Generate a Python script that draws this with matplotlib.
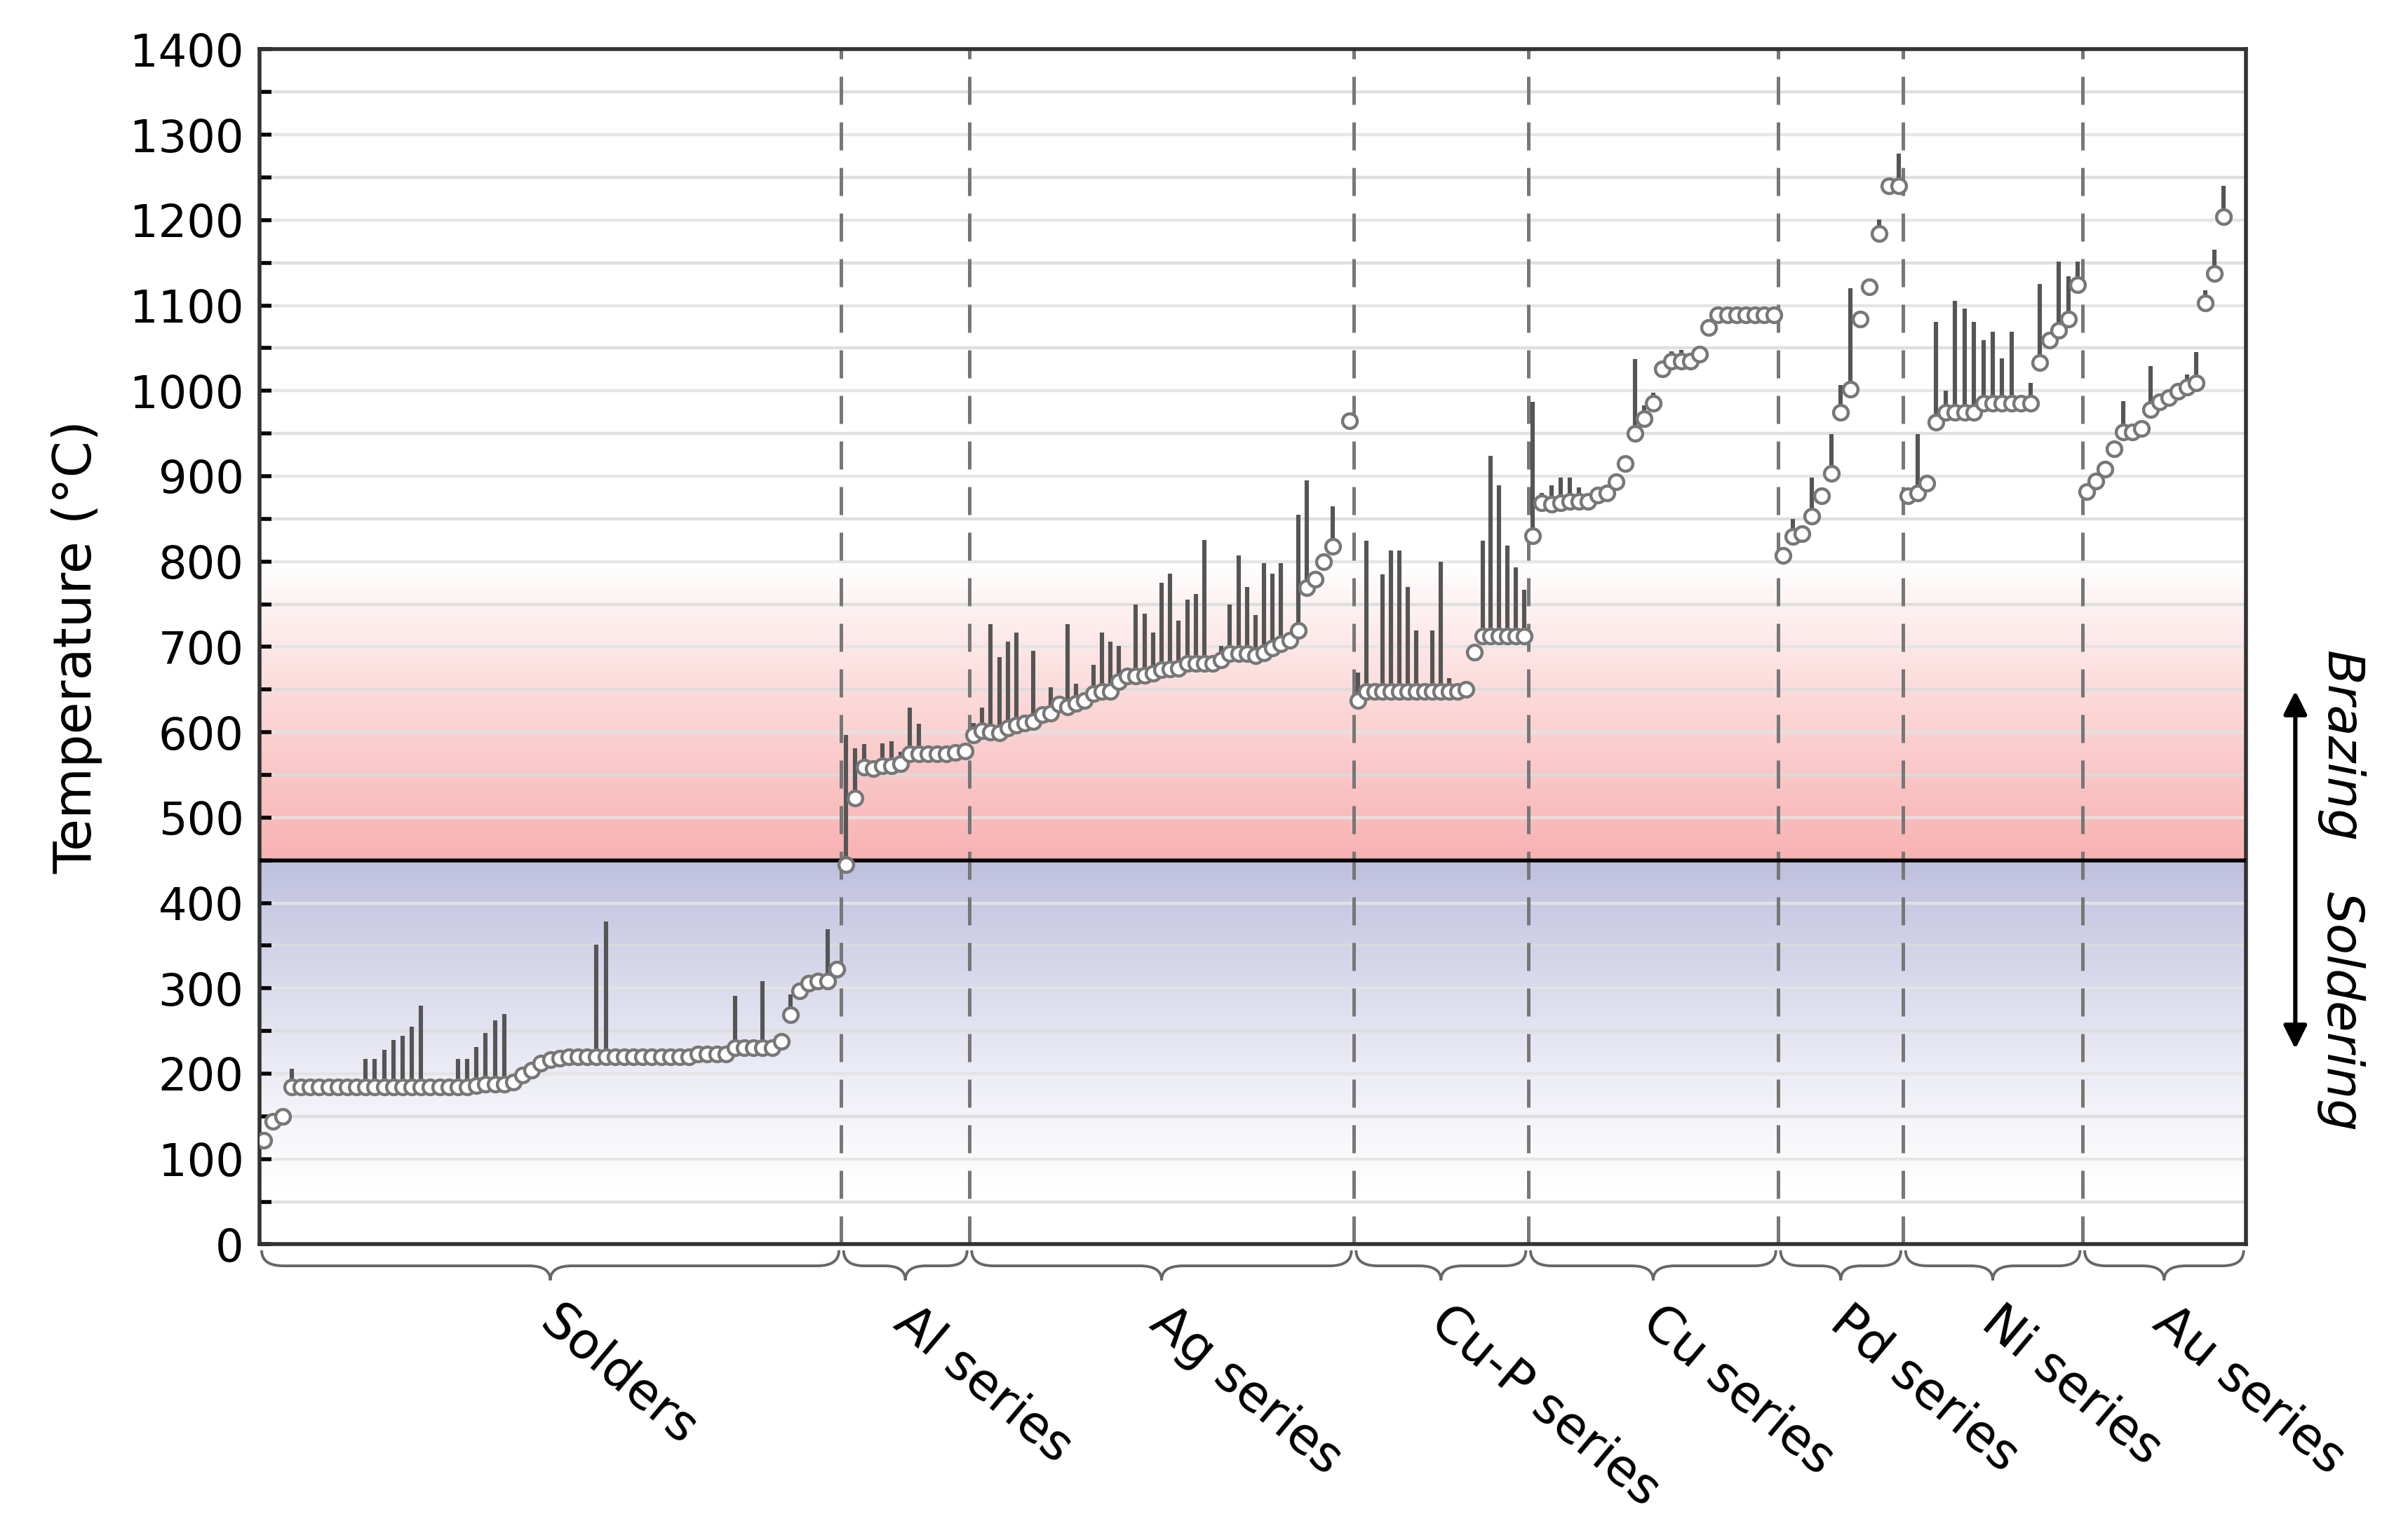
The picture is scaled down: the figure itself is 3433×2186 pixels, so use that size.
import numpy as np
import matplotlib
matplotlib.use("Agg")
import matplotlib.pyplot as plt
from matplotlib.path import Path
from matplotlib.patches import PathPatch
import matplotlib.transforms as mtrans

nan = np.nan
groups = ["Solders", "Al series", "Ag series", "Cu-P series", "Cu series", "Pd series", "Ni series", "Au series"]

solders_sol = [122, 144, 150] + [184]*20 + [186, 188, 188, 188, 190, 198, 204, 212, 216, 218] + [220]*14 + \
              [223, 223, 223, 223, 230, 230, 230, 230, 230, 238, 269, 297, 306, 308, 308, 322]
solders_liq = [122, 144, 150] + [206, 184, 184, 184, 184, 184, 184, 184, 217, 217, 228, 239, 244, 255, 280, 184, 184, 184, 217, 217] + \
              [231, 248, 262, 270, 190, 198, 204, 212, 216, 218] + [220, 220, 220, 351, 378] + [220]*9 + \
              [223, 223, 223, 223, 291, 230, 230, 308, 230, 238, 293, 297, 306, 308, 369, 322]

al_sol = [445, 523, 559, 557, 561, 561, 563, 575, 575, 575, 575, 575, 576, 578]
al_liq = [597, 581, 586, 557, 587, 589, 577, 629, 610, 575, 575, 575, 576, 578]

ag_sol = [597, 602, 600, 599, 605, 608, 611, 612, 621, 622, 633, 630, 634, 637, 645, 648, 648, 659, 666, 666,
          667, 669, 673, 674, 675, 681, 681, 681, 681, 685, 692, 692, 692, 690, 693, 699, 704, 708, 719,
          769, 779, 800, 818, nan, 965]
ag_liq = [611, 629, 727, 688, 706, 717, 611, 695, 621, 653, 633, 727, 657, 637, 679, 717, 706, 701, 666, 750,
          739, 717, 775, 786, 731, 755, 762, 825, 681, 701, 750, 807, 770, 737, 798, 786, 798, 708, 855,
          895, 779, 800, 865, nan, 965]

cup_sol = [637] + [648]*12 + [650, 694] + [713]*6
cup_liq = [670, 824, 648, 785, 813, 813, 770, 719, 648, 719, 800, 663, 648, 650, 694, 824, 924, 889, 819, 793, 767]

cu_sol = [830, 869, 867, 869, 870, 870, 870, 878, 880, 893, 915, 950, 967, 985, 1026, 1035, 1035, 1035, 1043, 1074] + [1089]*7
cu_liq = [987, 880, 889, 898, 898, 887, 878, 878, 880, 893, 915, 1037, 983, 998, 1033, 1046, 1048, 1035, 1043, 1074] + [1089]*6 + [1098]

pd_sol = [807, 829, 833, 853, 877, 903, 975, 1002, 1084, 1122, 1184, 1240, 1240]
pd_liq = [807, 850, 833, 898, 877, 949, 1007, 1120, 1084, 1122, 1201, 1240, 1278]

ni_sol = [877, 880, 892, 963, 975, 975, 975, 975, 985, 985, 985, 985, 985, 985, 1033, 1059, 1071, 1084, 1124]
ni_liq = [877, 949, 892, 1081, 1000, 1105, 1096, 1081, 1059, 1069, 1038, 1069, 985, 1009, 1125, 1059, 1151, 1134, 1151]

au_sol = [882, 894, 908, 932, 952, 952, 956, 978, 987, 992, 999, 1004, 1009, 1103, 1137, 1204, nan, nan]
au_liq = [882, 894, 908, 932, 988, 952, 956, 1029, 987, 992, 999, 1019, 1045, 1118, 1165, 1240, nan, nan]

sols = [solders_sol, al_sol, ag_sol, cup_sol, cu_sol, pd_sol, ni_sol, au_sol]
liqs = [solders_liq, al_liq, ag_liq, cup_liq, cu_liq, pd_liq, ni_liq, au_liq]
# relative horizontal width of each group's section (layout)
group_widths = [377, 83, 249, 113, 162, 81, 116, 106]

W, H, DPI = 3433, 2186, 200
fig = plt.figure(figsize=(W/DPI, H/DPI), dpi=DPI)
ax = fig.add_axes([0.1077, 0.1883, 0.8250, 0.7795])

total = float(sum(group_widths))
ax.set_xlim(0, total)
ax.set_ylim(0, 1400)

yy = np.linspace(0, 1400, 1401)
img = np.ones((len(yy), 1, 3))
red = np.array([248, 178, 178]) / 255
blue = np.array([190, 191, 222]) / 255
for i, t in enumerate(yy):
    if t >= 450:
        f = max(0.0, 1 - (t - 450) / 345.0) ** 0.9
        img[i, 0] = 1 - f * (1 - red)
    else:
        f = max(0.0, (t - 60) / 390.0) ** 1.2
        img[i, 0] = 1 - f * (1 - blue)
ax.imshow(img, extent=[0, total, 0, 1400], origin="lower", aspect="auto", zorder=0, interpolation="bilinear")

for g in range(50, 1400, 50):
    ax.axhline(g, color="#dcdcdc" if g % 100 else "#e4e4e4", lw=1.6, zorder=1, alpha=0.9)
ax.axhline(450, color="black", lw=2.0, zorder=3)

start = 0.0
centers = []
bounds = []
for k, (s, l) in enumerate(zip(sols, liqs)):
    n = len(s)
    w = group_widths[k]
    x = start + (np.arange(n) + 0.5) * w / n
    s = np.array(s, float); l = np.array(l, float)
    ax.vlines(x, s, l, color="#555555", lw=2.2, zorder=4)
    ax.plot(x, s, "o", ms=7.5, mfc="white", mec="#777777", mew=1.6, zorder=5, linestyle="none")
    centers.append(start + w / 2)
    start += w
    if k < len(sols) - 1:
        bounds.append(start)
        ax.axvline(start, color="#777777", lw=1.8, ls=(0, (8, 5)), zorder=2)

ax.set_yticks(range(0, 1401, 100))
ax.set_yticks(range(50, 1400, 100), minor=True)
ax.tick_params(axis="y", which="major", direction="in", length=6, width=2, labelsize=23, pad=8)
ax.tick_params(axis="y", which="minor", direction="in", length=6, width=2)
ax.set_xticks([])
ax.set_ylabel("Temperature (°C)", fontsize=27, labelpad=14)
for sp in ax.spines.values():
    sp.set_color("#333333"); sp.set_linewidth(2)

tr = mtrans.blended_transform_factory(ax.transData, ax.transAxes)
edges = [0] + bounds + [total]
for k in range(len(groups)):
    x0, x1 = edges[k] + 1.5, edges[k + 1] - 1.5
    xm = (x0 + x1) / 2
    y0, y1, y2 = -0.005, -0.018, -0.03
    d = min(14, (x1 - x0) / 6)
    verts = [(x0, y0), (x0, y1), (x0 + d, y1),
             (xm - d, y1), (xm, y1), (xm, y2),
             (xm, y1), (xm + d, y1),
             (x1 - d, y1), (x1, y1), (x1, y0)]
    codes = [Path.MOVETO, Path.CURVE3, Path.CURVE3,
             Path.LINETO, Path.CURVE3, Path.CURVE3,
             Path.CURVE3, Path.CURVE3,
             Path.LINETO, Path.CURVE3, Path.CURVE3]
    ax.add_patch(PathPatch(Path(verts, codes), fc="none", ec="#666666", lw=1.4,
                           transform=tr, clip_on=False))
    ax.text(centers[k] - 3, -0.06, groups[k], transform=tr, rotation=-40, rotation_mode="anchor",
            ha="left", va="center", fontsize=26)

fig.patches.append(matplotlib.patches.FancyArrowPatch(
    (0.9532, 1 - 445/993), (0.9532, 1 - 682/993), transform=fig.transFigure,
    arrowstyle="<|-|>", mutation_scale=25, lw=2.2, color="black"))
fig.text(0.972, 1 - 483/993, "Brazing", rotation=-90, ha="center", va="center", fontsize=26, style="italic")
fig.text(0.972, 1 - 655/993, "Soldering", rotation=-90, ha="center", va="center", fontsize=26, style="italic")

fig.savefig("out.png", dpi=DPI)
